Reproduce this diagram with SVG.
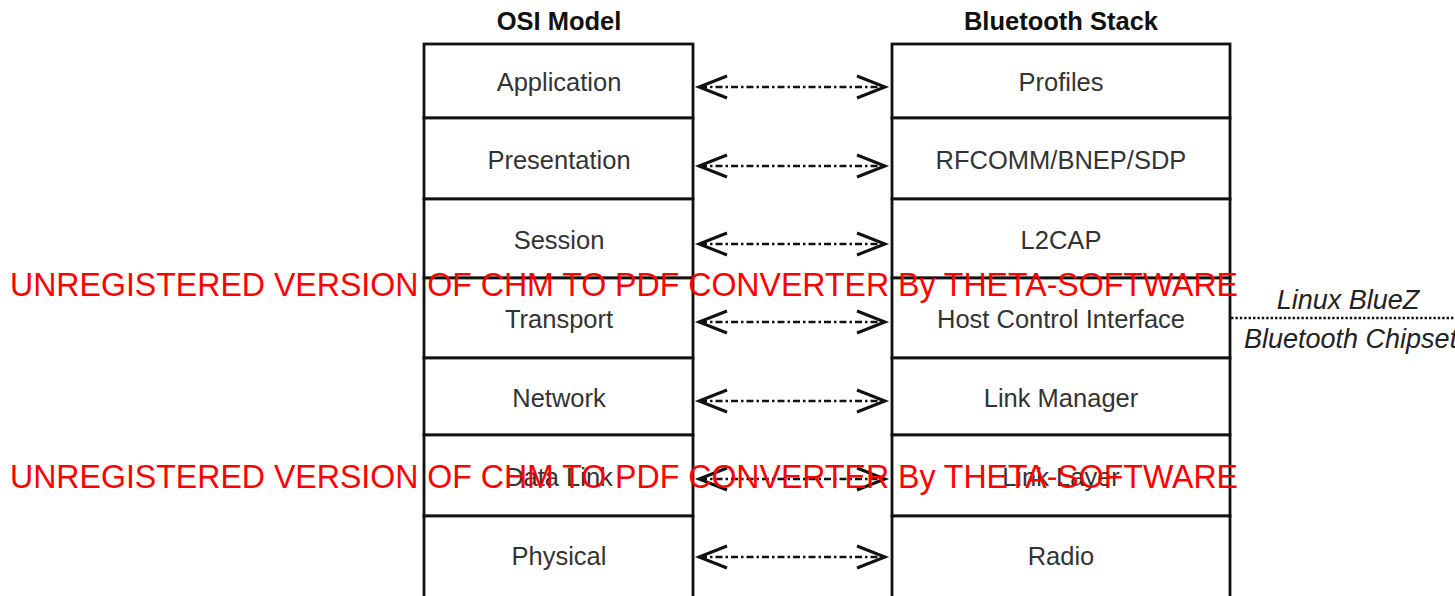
<svg xmlns="http://www.w3.org/2000/svg" width="1455" height="596" viewBox="0 0 1455 596">
<style>
.box{fill:#fff;stroke:#111;stroke-width:2.8}
.lbl{font-family:"Liberation Sans",Arial,sans-serif;font-size:25.5px;fill:#333;text-anchor:middle;dominant-baseline:central}
.ttl{font-family:"Liberation Sans",Arial,sans-serif;font-size:25.5px;font-weight:bold;fill:#111;text-anchor:middle;dominant-baseline:central}
.it{font-family:"Liberation Sans",Arial,sans-serif;font-size:27px;font-style:italic;fill:#222;dominant-baseline:central}
.conn{stroke:#111;stroke-width:2.6;fill:none;stroke-dasharray:7 3 2.5 3}
.head{stroke:#111;stroke-width:3;fill:none;stroke-linejoin:miter}
.wm{font-family:"Liberation Sans",Arial,sans-serif;font-size:34px;fill:#ff0000}
</style>
<rect width="1455" height="596" fill="#fff"/>
<g id="titles">
<text class="ttl" x="559" y="21">OSI Model</text>
<text class="ttl" x="1061" y="21">Bluetooth Stack</text>
</g>
<g id="osi-application"><rect class="box" x="424" y="44" width="269" height="74"/><text class="lbl" x="559" y="82">Application</text></g>
<g id="osi-presentation"><rect class="box" x="424" y="118" width="269" height="81"/><text class="lbl" x="559" y="160">Presentation</text></g>
<g id="osi-session"><rect class="box" x="424" y="199" width="269" height="79"/><text class="lbl" x="559" y="240">Session</text></g>
<g id="osi-transport"><rect class="box" x="424" y="278" width="269" height="80"/><text class="lbl" x="559" y="319">Transport</text></g>
<g id="osi-network"><rect class="box" x="424" y="358" width="269" height="77"/><text class="lbl" x="559" y="398">Network</text></g>
<g id="osi-datalink"><rect class="box" x="424" y="435" width="269" height="81"/><text class="lbl" x="559" y="477">Data Link</text></g>
<g id="osi-physical"><rect class="box" x="424" y="516" width="269" height="82"/><text class="lbl" x="559" y="556">Physical</text></g>
<g id="bt-profiles"><rect class="box" x="892" y="44" width="338" height="74"/><text class="lbl" x="1061" y="82">Profiles</text></g>
<g id="bt-rfcomm"><rect class="box" x="892" y="118" width="338" height="81"/><text class="lbl" x="1061" y="160">RFCOMM/BNEP/SDP</text></g>
<g id="bt-l2cap"><rect class="box" x="892" y="199" width="338" height="79"/><text class="lbl" x="1061" y="240">L2CAP</text></g>
<g id="bt-hci"><rect class="box" x="892" y="278" width="338" height="80"/><text class="lbl" x="1061" y="319">Host Control Interface</text></g>
<g id="bt-lm"><rect class="box" x="892" y="358" width="338" height="77"/><text class="lbl" x="1061" y="398">Link Manager</text></g>
<g id="bt-ll"><rect class="box" x="892" y="435" width="338" height="81"/><text class="lbl" x="1061" y="477">Link Layer</text></g>
<g id="bt-radio"><rect class="box" x="892" y="516" width="338" height="82"/><text class="lbl" x="1061" y="556">Radio</text></g>
<g id="boundary">
<line x1="1231" y1="318" x2="1455" y2="318" stroke="#111" stroke-width="2.4" stroke-dasharray="2.4 2"/>
<text class="it" x="1348" y="300" text-anchor="middle">Linux BlueZ</text>
<text class="it" x="1244" y="339">Bluetooth Chipset</text>
</g>
<g id="connectors">
<g transform="translate(0,87)"><line class="conn" x1="700" y1="0" x2="884" y2="0"/><path class="head" d="M727,-11 L699,0 L727,11 M857,-11 L885,0 L857,11"/></g>
<g transform="translate(0,166)"><line class="conn" x1="700" y1="0" x2="884" y2="0"/><path class="head" d="M727,-11 L699,0 L727,11 M857,-11 L885,0 L857,11"/></g>
<g transform="translate(0,244)"><line class="conn" x1="700" y1="0" x2="884" y2="0"/><path class="head" d="M727,-11 L699,0 L727,11 M857,-11 L885,0 L857,11"/></g>
<g transform="translate(0,322)"><line class="conn" x1="700" y1="0" x2="884" y2="0"/><path class="head" d="M727,-11 L699,0 L727,11 M857,-11 L885,0 L857,11"/></g>
<g transform="translate(0,401)"><line class="conn" x1="700" y1="0" x2="884" y2="0"/><path class="head" d="M727,-11 L699,0 L727,11 M857,-11 L885,0 L857,11"/></g>
<g transform="translate(0,479)"><line class="conn" x1="700" y1="0" x2="884" y2="0"/><path class="head" d="M727,-11 L699,0 L727,11 M857,-11 L885,0 L857,11"/></g>
<g transform="translate(0,557)"><line class="conn" x1="700" y1="0" x2="884" y2="0"/><path class="head" d="M727,-11 L699,0 L727,11 M857,-11 L885,0 L857,11"/></g>
</g>
<g id="watermark">
<text class="wm" x="10" y="296" textLength="1228" lengthAdjust="spacingAndGlyphs">UNREGISTERED VERSION OF CHM TO PDF CONVERTER By THETA-SOFTWARE</text>
<text class="wm" x="10" y="488" textLength="1228" lengthAdjust="spacingAndGlyphs">UNREGISTERED VERSION OF CHM TO PDF CONVERTER By THETA-SOFTWARE</text>
</g>
</svg>
